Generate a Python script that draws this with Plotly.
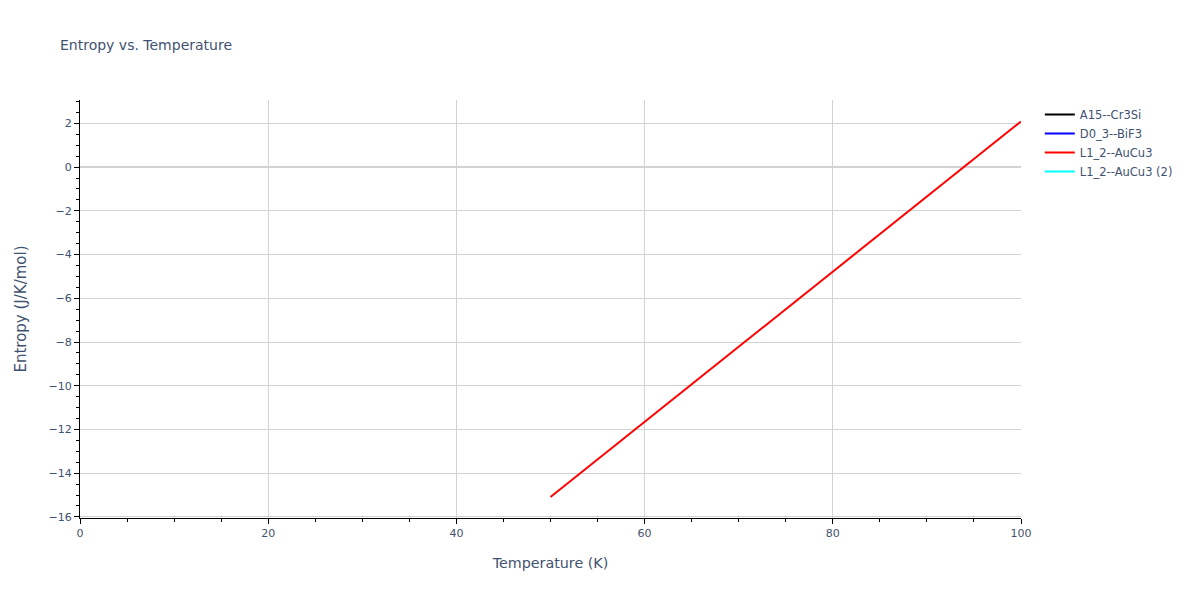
import plotly.graph_objects as go

# Data
temperature = [50, 60, 70, 80, 90, 100]
entropy_a15 = [None, None, None, None, None, None]      # not visible in the reference
entropy_d03 = [None, None, None, None, None, None]      # not visible in the reference
entropy_l12 = [-15.09, -11.65, -8.21, -4.78, -1.34, 2.09]
entropy_l12_2 = [None, None, None, None, None, None]    # not visible in the reference

series_names = ["A15--Cr3Si", "D0_3--BiF3", "L1_2--AuCu3", "L1_2--AuCu3 (2)"]
series_colors = ["black", "blue", "red", "cyan"]
series_y = [entropy_a15, entropy_d03, entropy_l12, entropy_l12_2]

fig = go.Figure()
for name, color, ys in zip(series_names, series_colors, series_y):
    fig.add_trace(go.Scatter(x=temperature, y=ys, mode="lines", name=name,
                             line=dict(color=color, width=2), showlegend=True))

axis_common = dict(
    showline=True, linecolor="black", linewidth=1,
    ticks="outside", tickcolor="black", ticklen=5,
    showgrid=True, gridcolor="lightgrey",
    tickfont=dict(color="#3f5270", size=11),
    automargin=False,
)

W, H = 1192, 592
fig.update_layout(
    template="plotly_white",
    width=W, height=H,
    margin=dict(l=72, r=179, t=92, b=82, autoexpand=False),
    font=dict(family="DejaVu Sans, Verdana, sans-serif", size=12, color="#3f5270"),
    title=dict(text="Entropy vs. Temperature", font=dict(size=14),
               x=52 / W, xanchor="left", y=1 - 37 / H, yanchor="middle"),
    showlegend=True,
    xaxis=dict(title=dict(text="Temperature (K)", font=dict(size=14.3), standoff=18),
               range=[0, 100], dtick=20,
               minor=dict(dtick=5, ticks="outside", ticklen=3, tickcolor="black", showgrid=False),
               zeroline=False, **axis_common),
    yaxis=dict(title=dict(text="Entropy (J/K/mol)", font=dict(size=15), standoff=18),
               range=[-16.05, 3.07], dtick=2,
               minor=dict(dtick=0.5, ticks="outside", ticklen=3, tickcolor="black", showgrid=False),
               zeroline=True, zerolinecolor="lightgrey", zerolinewidth=2,
               **axis_common),
    legend=dict(font=dict(color="#3f5270", size=11.5), x=1.02, y=1),
)

fig.write_html("out.html")
